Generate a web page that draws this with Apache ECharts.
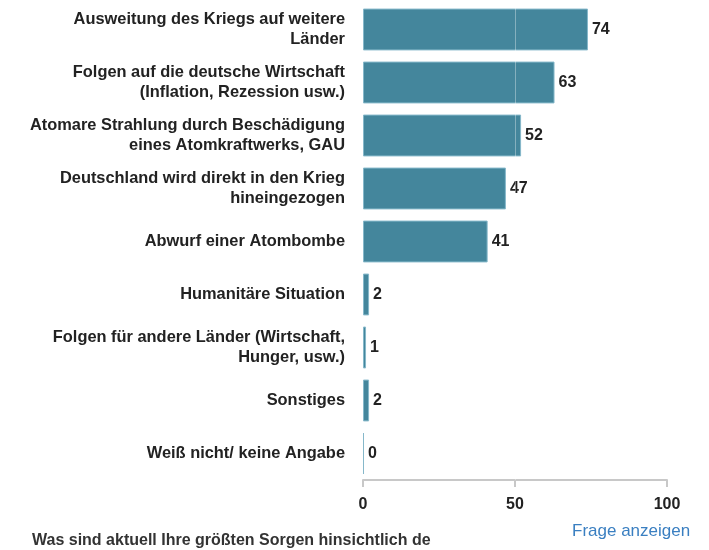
<!DOCTYPE html>
<html>
<head>
<meta charset="utf-8">
<script src="https://cdn.jsdelivr.net/npm/echarts@6/dist/echarts.min.js"></script>
<style>
  html, body { margin: 0; padding: 0; background: #fff; }
  #main { width: 709px; height: 550px; }
</style>
</head>
<body>
<div id="main"></div>
<script>
// Kategorien (oben nach unten)
const categories = [
  "Ausweitung des Kriegs auf weitere\nLänder",
  "Folgen auf die deutsche Wirtschaft\n(Inflation, Rezession usw.)",
  "Atomare Strahlung durch Beschädigung\neines Atomkraftwerks, GAU",
  "Deutschland wird direkt in den Krieg\nhineingezogen",
  "Abwurf einer Atombombe",
  "Humanitäre Situation",
  "Folgen für andere Länder (Wirtschaft,\nHunger, usw.)",
  "Sonstiges",
  "Weiß nicht/ keine Angabe"
];
const values = [74, 63, 52, 47, 41, 2, 1, 2, 0];
const xTicks = [0, 50, 100];

const chart = echarts.init(document.getElementById("main"));
chart.setOption({
  animation: false,
  textStyle: { fontFamily: "Liberation Sans, Arial, sans-serif" },
  grid: { left: 363, right: 42, top: 3, height: 477 },
  xAxis: {
    type: "value",
    min: xTicks[0],
    max: xTicks[xTicks.length - 1],
    interval: 50,
    axisLine: { show: true, lineStyle: { color: "#c8c8c8", width: 2 } },
    axisTick: { show: true, length: 7, lineStyle: { color: "#c8c8c8", width: 2 } },
    splitLine: { show: false },
    axisLabel: { color: "#222", fontWeight: "bold", fontSize: 16, margin: 17 }
  },
  yAxis: {
    type: "category",
    inverse: true,
    data: categories,
    axisLine: { show: false },
    axisTick: { show: false },
    axisLabel: {
      color: "#222",
      fontWeight: "bold",
      fontSize: 16.4,
      lineHeight: 20,
      margin: 18,
      align: "right"
    }
  },
  series: [
    {
      type: "bar",
      data: values,
      barCategoryGap: "21%",
      barMinHeight: 1,
      itemStyle: { color: "#44869c", borderColor: "#86b8ca", borderWidth: 1 },
      label: {
        show: true,
        position: "right",
        distance: 4,
        color: "#222",
        fontWeight: "bold",
        fontSize: 16
      },
      // helle Linie bei 50 über den Balken
      markLine: {
        silent: true,
        symbol: "none",
        label: { show: false },
        lineStyle: { color: "rgba(255,255,255,0.35)", type: "solid", width: 1 },
        data: [{ xAxis: 50 }]
      }
    }
  ],
  graphic: [
    {
      type: "text",
      left: 32,
      top: 533,
      style: {
        text: "Was sind aktuell Ihre größten Sorgen hinsichtlich de",
        fill: "#333",
        font: "bold 16px Liberation Sans, Arial, sans-serif"
      }
    },
    {
      type: "text",
      left: 572,
      top: 523,
      style: {
        text: "Frage anzeigen",
        fill: "#3a7fc1",
        font: "17px Liberation Sans, Arial, sans-serif"
      }
    }
  ]
});
</script>
</body>
</html>
